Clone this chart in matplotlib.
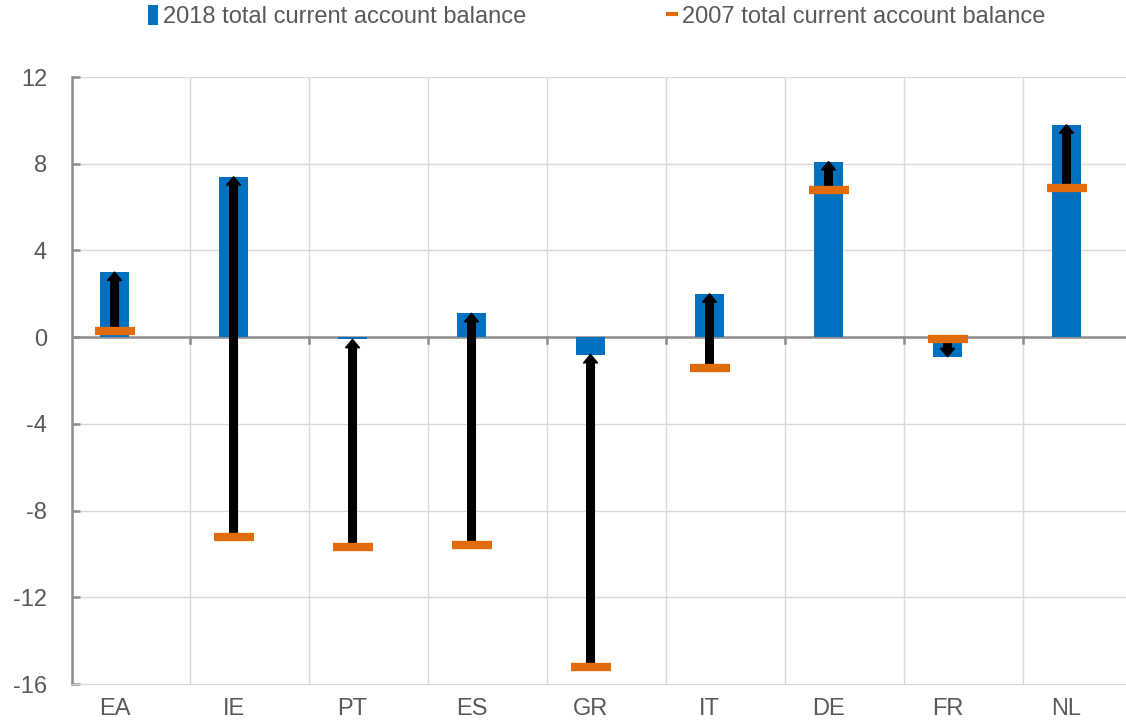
import matplotlib.pyplot as plt
from matplotlib.patches import FancyArrowPatch, Patch
from matplotlib.lines import Line2D

plt.rcParams['font.family'] = ['Liberation Sans', 'DejaVu Sans']
plt.rcParams['axes.unicode_minus'] = False

countries = ['EA', 'IE', 'PT', 'ES', 'GR', 'IT', 'DE', 'FR', 'NL']
ca_2018 = [3.0, 7.4, -0.1, 1.1, -0.8, 2.0, 8.1, -0.9, 9.8]
ca_2007 = [0.3, -9.2, -9.7, -9.6, -15.2, -1.4, 6.8, -0.1, 6.9]

blue = '#0070C0'
orange = '#E36C0A'
grey_txt = '#595959'

fig = plt.figure(figsize=(11.26, 7.24), dpi=100)
ax = fig.add_axes([0.064, 0.0552, 0.936, 0.8384])

x = list(range(len(countries)))
ax.bar(x, ca_2018, width=0.24, color=blue, zorder=3)

# arrows from 2007 to 2018
for xi, a, b in zip(x, ca_2007, ca_2018):
    arr = FancyArrowPatch((xi, a), (xi, b),
                          arrowstyle='simple,tail_width=0.55,head_width=1.0,head_length=0.6',
                          mutation_scale=10, color='black', shrinkA=0, shrinkB=0, zorder=4)
    ax.add_patch(arr)

ax.plot(x, ca_2007, linestyle='none', marker='_', markersize=29,
        markeredgewidth=6, color=orange, zorder=5)

ax.set_xlim(-0.357, 8.5)
ax.set_ylim(-16, 12)
ax.set_yticks(range(-16, 13, 4))
ax.set_xticks(x)
ax.set_xticklabels(countries)

# grid (category separators sit off-centre, as in the source)
seps = [i + 0.635 for i in x[:-1]]
for b in seps:
    ax.axvline(b, color='#D9D9D9', lw=1, zorder=0)
for yv in range(-12, 13, 4):
    ax.axhline(yv, color='#D9D9D9', lw=1, zorder=0)

ax.axhline(0, color='#8C8C8C', lw=1.8, zorder=2)
for b in seps:
    ax.plot([b, b], [0, -0.28], color='#8C8C8C', lw=1.8, zorder=2)

for s in ['top', 'right']:
    ax.spines[s].set_visible(False)
ax.spines['bottom'].set_color('#D9D9D9')
ax.spines['left'].set_color('#8C8C8C')
ax.spines['left'].set_linewidth(1.8)

ax.tick_params(axis='y', direction='in', length=6, width=1.8, color='#8C8C8C',
               labelsize=17, labelcolor=grey_txt, pad=18)
ax.tick_params(axis='x', length=0, labelsize=17, labelcolor=grey_txt, pad=10)

handles = [Patch(facecolor=blue, edgecolor='none'),
           Line2D([], [], linestyle='none', marker='_', markersize=9,
                  markeredgewidth=3, color=orange)]
labels = ['2018 total current account balance', '2007 total current account balance']
fig.legend(handles, labels, loc='upper center', bbox_to_anchor=(0.53, 1.022), ncol=2,
           frameon=False, fontsize=17, labelcolor=grey_txt, handlelength=0.4,
           handleheight=0.9, handletextpad=0.2, columnspacing=6.0)

fig.savefig('out.png', dpi=100)
